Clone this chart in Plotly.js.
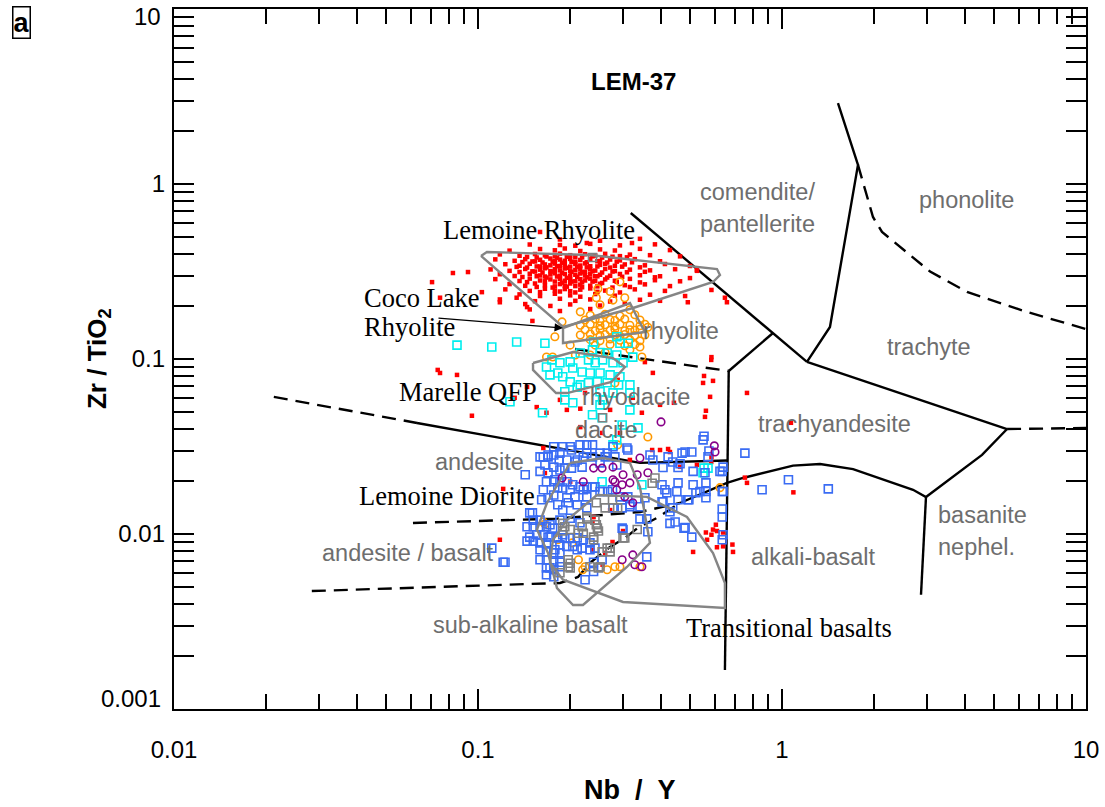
<!DOCTYPE html>
<html>
<head>
<meta charset="utf-8">
<script src="https://cdn.plot.ly/plotly-3.0.1.min.js"></script>
<style>html,body{margin:0;padding:0;background:#fff;}#chart{width:1105px;height:807px;}</style>
</head>
<body>
<div id="chart"></div>
<script>
// ---------------- DATA (Nb/Y , Zr/TiO2) ----------------
const lemoineRhyolite = [
 [0.186,0.482],[0.252,0.474],[0.341,0.486],
 [0.148,0.451],[0.209,0.444],[0.234,0.455],[0.293,0.446],[0.382,0.452],
 [0.127,0.416],[0.160,0.425],[0.179,0.418],[0.193,0.428],[0.217,0.414],[0.252,0.423],[0.282,0.417],[0.341,0.426],[0.428,0.419],
 [0.118,0.396],[0.137,0.389],[0.154,0.398],[0.166,0.391],[0.179,0.386],[0.186,0.400],[0.201,0.392],[0.209,0.384],[0.225,0.397],[0.243,0.390],[0.262,0.399],[0.293,0.387],[0.316,0.395],[0.368,0.392],[0.462,0.386],
 [0.114,0.371],[0.132,0.364],[0.143,0.372],[0.154,0.361],[0.160,0.369],[0.173,0.375],[0.179,0.362],[0.186,0.370],[0.193,0.364],[0.201,0.373],[0.209,0.360],[0.217,0.368],[0.234,0.374],[0.252,0.363],[0.272,0.370],[0.293,0.366],[0.328,0.372],[0.397,0.362],
 [0.123,0.348],[0.137,0.341],[0.148,0.350],[0.160,0.338],[0.166,0.347],[0.173,0.343],[0.179,0.351],[0.186,0.340],[0.193,0.346],[0.201,0.337],[0.209,0.349],[0.217,0.342],[0.225,0.352],[0.234,0.339],[0.252,0.345],[0.262,0.350],[0.282,0.341],[0.304,0.347],[0.354,0.343],[0.412,0.349],[0.498,0.340],
 [0.110,0.325],[0.127,0.319],[0.143,0.327],[0.154,0.316],[0.160,0.324],[0.166,0.330],[0.173,0.318],[0.179,0.326],[0.186,0.321],[0.193,0.329],[0.201,0.317],[0.209,0.323],[0.217,0.328],[0.225,0.315],[0.234,0.325],[0.243,0.320],[0.262,0.327],[0.282,0.318],[0.316,0.324],[0.368,0.321],[0.445,0.326],[0.525,0.319],
 [0.118,0.305],[0.132,0.298],[0.148,0.307],[0.160,0.300],[0.166,0.296],[0.173,0.304],[0.179,0.309],[0.186,0.299],[0.193,0.306],[0.201,0.297],[0.209,0.303],[0.217,0.308],[0.225,0.300],[0.234,0.305],[0.243,0.297],[0.252,0.303],[0.272,0.299],[0.293,0.306],[0.341,0.301],[0.397,0.297],
 [0.114,0.286],[0.137,0.279],[0.148,0.288],[0.160,0.281],[0.173,0.285],[0.179,0.277],[0.186,0.287],[0.193,0.280],[0.201,0.284],[0.209,0.278],[0.217,0.286],[0.225,0.281],[0.234,0.288],[0.243,0.279],[0.262,0.285],[0.282,0.280],[0.316,0.287],[0.382,0.282],[0.462,0.278],
 [0.127,0.268],[0.143,0.262],[0.154,0.270],[0.166,0.264],[0.179,0.260],[0.186,0.268],[0.193,0.263],[0.201,0.270],[0.209,0.261],[0.217,0.266],[0.234,0.262],[0.252,0.269],[0.304,0.264],[0.354,0.267],[0.428,0.261],
 [0.123,0.250],[0.148,0.245],[0.166,0.252],[0.179,0.246],[0.193,0.251],[0.201,0.244],[0.217,0.249],[0.234,0.253],[0.262,0.246],[0.328,0.250],[0.412,0.245],
 [0.137,0.234],[0.160,0.229],[0.179,0.236],[0.201,0.231],[0.217,0.227],[0.243,0.235],[0.282,0.230],[0.368,0.233],[0.480,0.229],
 [0.118,0.219],[0.154,0.214],[0.186,0.221],[0.209,0.215],[0.234,0.219],[0.272,0.213],[0.341,0.218],[0.397,0.215],
 [0.143,0.206],[0.173,0.201],[0.201,0.205],[0.252,0.202],[0.304,0.207],
 [0.148,0.192],[0.186,0.188],[0.234,0.193],
 [0.145,0.383],[0.156,0.380],[0.168,0.385],[0.182,0.379],[0.196,0.384],[0.220,0.381],[0.238,0.386],[0.256,0.380],[0.277,0.384],[0.309,0.381],
 [0.140,0.358],[0.151,0.361],[0.163,0.356],[0.176,0.360],[0.189,0.355],[0.203,0.359],[0.228,0.357],[0.247,0.362],[0.266,0.356],[0.286,0.360],[0.321,0.357],
 [0.134,0.336],[0.145,0.333],[0.156,0.338],[0.168,0.334],[0.182,0.339],[0.196,0.332],[0.212,0.337],[0.228,0.334],[0.247,0.338],[0.272,0.333],[0.298,0.337],[0.341,0.334],
 [0.137,0.314],[0.151,0.317],[0.163,0.312],[0.176,0.316],[0.189,0.311],[0.203,0.315],[0.220,0.313],[0.238,0.317],[0.256,0.312],[0.277,0.316],[0.309,0.313],[0.354,0.315],
 [0.140,0.294],[0.156,0.297],[0.168,0.292],[0.182,0.296],[0.196,0.291],[0.212,0.295],[0.228,0.293],[0.247,0.297],[0.266,0.292],[0.298,0.295],[0.382,0.293],
 [0.145,0.275],[0.166,0.278],[0.189,0.273],[0.203,0.277],[0.220,0.274],[0.238,0.277],[0.256,0.272],[0.286,0.276],[0.341,0.274],
 [0.156,0.258],[0.176,0.256],[0.196,0.259],[0.220,0.257],[0.247,0.260],[0.277,0.256],[0.316,0.258],
 [0.160,0.241],[0.186,0.243],[0.209,0.240],[0.247,0.242],[0.293,0.240],
 // scattered
 [0.0927,0.314],[0.0827,0.310],[0.0706,0.275],[0.075,0.224],[0.103,0.241],[0.118,0.211],[0.134,0.224],[0.145,0.198],[0.151,0.165],
 [0.186,0.448],[0.228,0.46],[0.321,0.46],[0.525,0.323],[0.49,0.211],[0.659,0.211],[0.586,0.248],[0.649,0.224],[0.498,0.290],[0.160,0.532],
 [0.0737,0.0866],[0.0853,0.0811],[0.075,0.0832],[0.0955,0.0474],[0.132,0.060],[0.145,0.0693],[0.156,0.0531],[0.168,0.0493],[0.186,0.0584],
 [0.196,0.0512],[0.217,0.052],[0.225,0.064],[0.247,0.069],[0.272,0.0512],[0.346,0.0493],[0.397,0.0547],[0.441,0.0562],[0.550,0.073],
 [0.585,0.0988],[0.580,0.0608],[0.354,0.096],[0.376,0.0833],[0.288,0.076],[0.323,0.060],[0.217,0.0408],[0.256,0.0378],[0.293,0.0378],
 [0.558,0.0467],[0.164,0.031],[0.316,0.0265],[0.374,0.0302],[0.397,0.0302],[0.422,0.0306],[0.585,0.0258],[0.525,0.0248],[0.462,0.0242],
 [0.428,0.0294],[0.121,0.0181],[0.118,0.00927],[0.767,0.0196],[0.593,0.0106],[0.611,0.0104],[0.64,0.0102],[0.611,0.0084],[0.64,0.0085],
 [0.51,0.0079],[0.69,0.0079],[0.567,0.00927],[0.586,0.0099],[0.272,0.0137],[0.24,0.0125],[0.238,0.0117],[0.277,0.0090],[0.30,0.0104],
 [0.262,0.0078],[0.238,0.0081],[0.257,0.00667],[0.166,0.0223],[0.201,0.0199],[0.586,0.1025],[0.554,0.080],[0.593,0.075],[0.767,0.064],
 [0.562,0.0506],[1.07,0.0432],[0.755,0.021],[1.09,0.0173],[0.586,0.0276],[0.606,0.0113],[0.562,0.0102],[0.687,0.0087]
];

const cocoLake = [
 [0.234,0.178],[0.262,0.180],[0.293,0.176],[0.328,0.179],
 [0.225,0.167],[0.243,0.169],[0.252,0.165],[0.272,0.168],[0.282,0.166],[0.304,0.169],[0.341,0.167],
 [0.217,0.156],[0.234,0.158],[0.252,0.155],[0.262,0.157],[0.282,0.154],[0.293,0.158],[0.316,0.156],[0.341,0.155],[0.354,0.158],
 [0.225,0.147],[0.243,0.145],[0.252,0.148],[0.272,0.146],[0.282,0.148],[0.304,0.145],[0.316,0.147],[0.328,0.146],[0.341,0.148],
 [0.217,0.137],[0.234,0.139],[0.252,0.136],[0.262,0.138],[0.282,0.137],[0.293,0.135],[0.304,0.138],[0.328,0.136],[0.354,0.137],
 [0.234,0.129],[0.252,0.127],[0.272,0.130],[0.293,0.128],[0.316,0.129],[0.341,0.127],
 [0.243,0.120],[0.272,0.121],[0.304,0.119],[0.328,0.121],
 [0.293,0.276],[0.248,0.252],[0.272,0.243],[0.278,0.217],[0.245,0.224],[0.316,0.191],[0.217,0.186],[0.189,0.163],[0.179,0.134],
 [0.176,0.1026],[0.168,0.1026],[0.362,0.152],[0.341,0.117],[0.316,0.113],[0.346,0.1026],[0.362,0.0358],[0.288,0.0323],[0.282,0.073],
 [0.625,0.0184],[0.164,0.0117],[0.166,0.0114],[0.183,0.00927],[0.204,0.0089],[0.214,0.00713],[0.225,0.0065],[0.221,0.00625],
 [0.266,0.00625],[0.282,0.0065],[0.293,0.0065],[0.341,0.0065],[0.252,0.204],[0.304,0.224],[0.201,0.120],[0.209,0.1055],[0.234,0.1055],[0.262,0.109]
];

const marelleQFP = [
 [0.0853,0.120],[0.111,0.117],[0.134,0.125],[0.166,0.123],[0.240,0.125],[0.286,0.134],[0.293,0.123],[0.312,0.123],
 [0.238,0.1127],[0.252,0.109],[0.266,0.1083],[0.286,0.1055],[0.217,0.1083],[0.231,0.0988],[0.243,0.0951],[0.257,0.0988],
 [0.278,0.0951],[0.300,0.0951],[0.323,0.1025],[0.175,0.0988],[0.186,0.0951],[0.201,0.0963],[0.205,0.0889],[0.220,0.0843],
 [0.234,0.0832],[0.252,0.0832],[0.272,0.0811],[0.293,0.0791],[0.1725,0.0811],[0.190,0.0791],[0.201,0.074],[0.217,0.0711],
 [0.231,0.0731],[0.247,0.074],[0.266,0.0731],[0.290,0.0711],[0.316,0.0711],[0.193,0.065],[0.212,0.0690],[0.252,0.065],
 [0.278,0.0640],[0.316,0.0640],[0.193,0.0584],[0.205,0.0562],[0.238,0.048],[0.256,0.0462],[0.316,0.0512],[0.336,0.0404],
 [0.286,0.0345],[0.163,0.0493],[0.168,0.090],[0.183,0.0832],[0.252,0.0547],[0.257,0.0584],[0.278,0.0323],[0.298,0.042],
 [0.550,0.0224],[0.346,0.0191],[0.256,0.0199],[0.554,0.0238],[0.571,0.0238],[0.1274,0.057]
];

const lemoineDiorite = [
 [0.1775,0.0315],[0.160,0.0276],[0.170,0.0276],[0.186,0.0290],[0.201,0.0315],[0.2165,0.0323],[0.228,0.0323],[0.238,0.0323],
 [0.196,0.0265],[0.212,0.0265],[0.228,0.029],[0.252,0.029],[0.266,0.029],[0.278,0.0315],[0.311,0.0302],[0.368,0.0283],
 [0.422,0.0276],[0.469,0.029],[0.505,0.0294],[0.55,0.0345],[0.571,0.0276],[0.755,0.029],[0.462,0.0252],[0.51,0.0228],
 [0.558,0.0224],[0.636,0.0228],[0.406,0.024],[0.455,0.024],[0.403,0.0191],[0.412,0.0179],[0.455,0.0196],[0.51,0.0191],
 [0.451,0.0175],[0.537,0.0175],[0.494,0.0157],[0.455,0.0157],[0.428,0.0134],[0.636,0.0175],[0.562,0.0161],[0.636,0.0125],
 [0.636,0.00927],[0.359,0.0122],[0.403,0.0153],[0.445,0.0117],[0.48,0.0109],[0.505,0.0096],[0.359,0.0074],[0.298,0.0108],
 [0.143,0.0218],[0.160,0.0228],[0.170,0.0224],[0.168,0.0199],[0.1775,0.0199],[0.186,0.0199],[0.196,0.0199],[0.205,0.0191],
 [0.2165,0.0186],[0.228,0.0186],[0.2425,0.0186],[0.183,0.0183],[0.19,0.0183],[0.201,0.0179],[0.1775,0.0167],[0.164,0.0179],
 [0.196,0.0161],[0.2085,0.0163],[0.228,0.0163],[0.252,0.0175],[0.277,0.0179],[0.293,0.0163],[0.311,0.0163],[0.316,0.0147],
 [0.341,0.0143],[0.278,0.0141],[0.19,0.0137],[0.148,0.0132],[0.152,0.0120],[0.160,0.0120],[0.145,0.0110],[0.152,0.0110],
 [0.160,0.0110],[0.168,0.0110],[0.176,0.0108],[0.148,0.0096],[0.156,0.0099],[0.164,0.0099],[0.1725,0.0096],[0.183,0.0095],
 [0.19,0.0099],[0.201,0.0095],[0.212,0.0095],[0.222,0.00927],[0.2335,0.0089],[0.145,0.0091],[0.152,0.0091],[0.160,0.0089],
 [0.168,0.0089],[0.186,0.00868],[0.196,0.0085],[0.205,0.0085],[0.22,0.0083],[0.2335,0.00813],[0.2425,0.0083],[0.160,0.00813],
 [0.168,0.0079],[0.1775,0.0078],[0.186,0.0078],[0.111,0.0083],[0.1227,0.0069],[0.160,0.00713],[0.168,0.00713],[0.1775,0.0069],
 [0.186,0.0069],[0.168,0.0064],[0.1775,0.00625],[0.186,0.0065],[0.1775,0.0057],[0.225,0.00548],[0.240,0.0069],[0.240,0.0061],
 [0.256,0.00713],[0.164,0.0276],[0.1775,0.0283],[0.222,0.0276],[0.238,0.0276],[0.262,0.0276],[0.282,0.0276],[0.166,0.0248],
 [0.1775,0.0241],[0.193,0.0238],[0.203,0.0238],[0.220,0.0241],[0.179,0.0204],[0.222,0.0179],[0.238,0.0186],[0.257,0.0175],
 [0.267,0.0175],[0.162,0.0157],[0.170,0.0161],[0.183,0.0147],[0.198,0.0151],[0.212,0.0147],[0.228,0.0141],[0.298,0.0141],
 [0.316,0.0143],[0.341,0.0122],[0.362,0.0103],[0.30,0.0106],[0.354,0.0161],[0.406,0.0153],[0.437,0.0141],[0.476,0.0108],
 [0.428,0.0115],[0.1725,0.0113],[0.186,0.0120],[0.201,0.0123],[0.2165,0.0116],[0.170,0.0096],[0.193,0.0095],[0.212,0.00813],
 [0.179,0.00813],[0.1725,0.0064],[0.168,0.00585],[0.64,0.0175],[0.625,0.0228],[0.562,0.0196],[0.521,0.0172],[0.49,0.0157],
 [0.418,0.0172],[0.151,0.0132],[0.121,0.0069],[0.554,0.0362],[0.575,0.0298],[0.64,0.0241],[0.86,0.0179],[1.05,0.0204],
 [1.42,0.0181],[0.562,0.0175],[0.636,0.0139],[0.64,0.0099],[0.19,0.0315],[0.203,0.0302],[0.170,0.0283],[0.185,0.0265],
 [0.2085,0.0258],[0.252,0.0255],[0.286,0.0248],[0.309,0.0310],[0.376,0.0265],[0.437,0.0258],[0.48,0.0294],[0.186,0.0232]
];

const purpleSeries = [
 [0.40,0.0437],[0.602,0.0294],[0.341,0.0272],[0.240,0.0238],[0.256,0.0238],[0.278,0.0241],[0.300,0.0218],[0.282,0.0199],
 [0.298,0.0191],[0.334,0.0218],[0.362,0.0224],[0.316,0.0196],[0.286,0.0179],[0.304,0.0163],[0.323,0.0151],[0.323,0.0076],
 [0.298,0.00713],[0.328,0.00667],[0.278,0.0204],[0.189,0.0209],[0.222,0.0199],[0.346,0.0065],[0.599,0.0319]
];

const graySeries = [
 [0.228,0.0122],[0.2425,0.0120],[0.247,0.0108],[0.249,0.0104],[0.22,0.0110],[0.222,0.0101],[0.240,0.00927],[0.256,0.0079],
 [0.266,0.0083],[0.272,0.0083],[0.30,0.0095],[0.334,0.0106],[0.262,0.0141],[0.277,0.0157],[0.288,0.0141],[0.382,0.0209],
 [0.374,0.0195],[0.249,0.0064],[0.2335,0.0065],[0.201,0.0068],[0.19,0.0115],[0.19,0.0104],[0.201,0.0106],[0.198,0.00713],
 [0.201,0.0064],[0.186,0.0060],[0.245,0.0151],[0.228,0.0125],[0.245,0.0113],[0.193,0.0110],[0.214,0.0101],[0.304,0.0095],
 [0.272,0.0079],[0.240,0.0096],[0.252,0.0065],[0.238,0.380],[0.257,0.0462],[0.198,0.0065]
];

// ---------------- field boundaries (Winchester & Floyd) ----------------
const bComendite   = [[0.318,0.683],[0.934,0.1408],[1.208,0.0962]];
const bTrachyteL   = [[1.528,2.90],[1.778,1.285],[1.438,0.1524],[1.208,0.0962]];
const bTrachyteLow = [[1.208,0.0962],[5.50,0.0398]];
const bTrachyteRd  = [[5.50,0.0398],[10,0.0403]];
const bPhonolite   = [[1.778,1.285],[1.992,0.648],[2.133,0.532],[2.444,0.4365],[3.07,0.316],[4.06,0.2415],[6.40,0.1856],[10,0.1484]];
const bRhyoTa      = [[0.934,0.1408],[0.668,0.0854]];
const bVertical    = [[0.668,0.0854],[0.649,0.00167]];
const bRhyodacite  = [[0.2085,0.114],[0.668,0.0854]];
const bDaciteDash  = [[0.0213,0.0607],[0.063,0.0431]];
const bDacite      = [[0.063,0.0431],[0.341,0.0255],[0.659,0.0263]];
const bTrachyand   = [[0.4617,0.01504],[0.659,0.0196],[0.744,0.0209],[1.087,0.0246],[1.334,0.0251],[1.713,0.0235],[2.698,0.0179],[2.976,0.01626],[4.55,0.0283],[5.50,0.0398]];
const bBasanite    = [[2.976,0.01626],[2.866,0.0045]];
const bAndBas      = [[0.0611,0.01156],[0.182,0.01225],[0.341,0.01336],[0.4617,0.01504]];
const bSubAlk      = [[0.0284,0.00472],[0.1861,0.00525],[0.2133,0.00568],[0.2335,0.00683],[0.2717,0.00843],[0.3044,0.00948],[0.335,0.01082],[0.386,0.0123],[0.4617,0.01504]];

// ---------------- group outlines ----------------
const pLemoineRhy = [[0.1023,0.388],[0.107,0.4087],[0.2335,0.393],[0.611,0.3268],[0.625,0.302],[0.593,0.2754],[0.3236,0.1956],[0.1904,0.1524],[0.1023,0.388]];
const pCocoLake   = [[0.1904,0.1503],[0.3162,0.2089],[0.3334,0.1738],[0.3541,0.1426],[0.1904,0.1234],[0.1904,0.1503]];
const pMarelle    = [[0.1517,0.0949],[0.2054,0.1096],[0.278,0.1013],[0.3044,0.0900],[0.2749,0.0739],[0.1963,0.0639],[0.1806,0.0639],[0.1517,0.0866],[0.1517,0.0949]];
const pDiorite    = [[0.2007,0.02545],[0.2576,0.0272],[0.3162,0.02545],[0.341,0.01856],[0.3678,0.00889],[0.309,0.00648],[0.2215,0.00393],[0.2054,0.00393],[0.1819,0.00491],[0.1699,0.00779],[0.1563,0.0106],[0.1686,0.01504],[0.2007,0.02545]];
const pTransit    = [[0.2462,0.0167],[0.3594,0.0163],[0.4869,0.0125],[0.593,0.00779],[0.649,0.00525],[0.649,0.00378],[0.2999,0.00409],[0.1904,0.00548],[0.1725,0.00683],[0.1764,0.00927],[0.1963,0.0120],[0.2462,0.0167]];

// tick labels
const xTickVals = [0.01,0.1,1,10];
const xTickText = ['0.01','0.1','1','10'];
const yTickVals = [0.001,0.01,0.1,1,10];
const yTickText = ['0.001','0.01','0.1','1','10'];

// ---------------- build ----------------
const X = a => a.map(p => p[0]);
const Y = a => a.map(p => p[1]);
const L = Math.log10;
const traces = [];
function addLine(pts, dash, color, width){
  traces.push({x:X(pts), y:Y(pts), mode:'lines', type:'scatter', hoverinfo:'skip', showlegend:false,
    line:{color:color||'#000', width:width||2.4, dash:dash||'solid'}});
}
const DASH = '14px,8px';
[bComendite,bTrachyteL,bTrachyteLow,bRhyoTa,bVertical,bDacite,bTrachyand,bBasanite].forEach(b=>addLine(b));
[bTrachyteRd,bPhonolite,bRhyodacite,bDaciteDash,bAndBas,bSubAlk].forEach(b=>addLine(b,DASH));

function addPts(pts, symbol, size, color, lw){
  traces.push({x:X(pts), y:Y(pts), mode:'markers', type:'scatter', showlegend:false,
    marker:{symbol:symbol, size:size, color:color, line:{color:color, width:lw}}});
}
addPts(lemoineRhyolite,'square',4.5,'#ff0000',0);
addPts(cocoLake,'circle-open',7.5,'#ff9900',1.6);
addPts(marelleQFP,'square-open',8,'#00eeee',1.6);
addPts(lemoineDiorite,'square-open',8,'#3a6cf4',1.6);
addPts(purpleSeries,'circle-open',7.5,'#880088',1.6);
addPts(graySeries,'square-open',8,'#808080',1.6);

[pLemoineRhy,pCocoLake,pMarelle,pDiorite,pTransit].forEach(p=>addLine(p,'solid','#858585',2.4));

const SANS = 'Liberation Sans, Arial, Helvetica, sans-serif';
const SERIF = 'Liberation Serif, Times New Roman, serif';
const GRAY = '#6e6e6e';
function lbl(text,x,y,opts){
  return Object.assign({text:text, x:L(x), y:L(y), xref:'x', yref:'y', showarrow:false,
    font:{family:SANS, size:23.5, color:GRAY}}, opts||{});
}
function blk(text,x,y,opts){
  return lbl(text,x,y,Object.assign({font:{family:SERIF, size:26.5, color:'#000'}},opts||{}));
}
const annotations = [
  lbl('comendite/',0.828,0.90), lbl('pantellerite',0.828,0.59), lbl('phonolite',4.06,0.81),
  lbl('rhyolite',0.466,0.145), lbl('trachyte',3.045,0.117), lbl('rhyodacite',0.331,0.0607),
  lbl('dacite',0.2655,0.0393), lbl('trachyandesite',1.483,0.0425), lbl('andesite',0.1008,0.0258),
  lbl('andesite / basalt',0.0589,0.00778), lbl('alkali-basalt',1.274,0.0074),
  lbl('basanite',4.55,0.01284), lbl('nephel.',4.35,0.00843), lbl('sub-alkaline basalt',0.1493,0.00302),
  blk('Lemoine Rhyolite',0.1588,0.546), blk('Coco Lake',0.04154,0.2232,{xanchor:'left'}),
  blk('Rhyolite',0.04154,0.1524,{xanchor:'left'}), blk('Marelle QFP',0.0927,0.0648),
  blk('Lemoine Diorite',0.0791,0.0165), blk('Transitional basalts',1.055,0.0029),
  {text:'', x:L(0.1904), y:L(0.1503), ax:L(0.0733), ay:L(0.1714), xref:'x', yref:'y', axref:'x', ayref:'y',
   showarrow:true, arrowhead:2, arrowsize:1.3, arrowwidth:1.3, arrowcolor:'#000', standoff:0},
  {text:'<b>LEM-37</b>', x:L(0.3236), y:L(3.83), xref:'x', yref:'y', showarrow:false, font:{family:SANS,size:24,color:'#000'}},
  {text:'<b>Nb&#160; / &#160;Y</b>', x:0.5, y:-0.115, xref:'paper', yref:'paper', xanchor:'center', yanchor:'middle', showarrow:false, font:{family:SANS,size:27,color:'#000'}},
  {text:'<b>Zr / TiO<sub>2</sub></b>', x:-0.0833, y:0.5, xref:'paper', yref:'paper', xanchor:'center', yanchor:'middle', textangle:-90, showarrow:false, font:{family:SANS,size:26,color:'#000'}},
  {text:'<b>a</b>', x:-0.1667, y:0.9814, xref:'paper', yref:'paper', xanchor:'center', yanchor:'middle', showarrow:false,
   font:{family:SANS,size:27,color:'#000'}, bordercolor:'#000', borderwidth:1.5, borderpad:0},
  // end labels of the y axis, drawn inside the frame as in the reference
  {text:yTickText[4], x:-0.012, y:0.9886, xref:'paper', yref:'paper', xanchor:'right', yanchor:'middle', showarrow:false, font:{family:SANS,size:24,color:'#000'}},
  {text:yTickText[0], x:-0.012, y:0.0157, xref:'paper', yref:'paper', xanchor:'right', yanchor:'middle', showarrow:false, font:{family:SANS,size:24,color:'#000'}}
];

const minorX = [], minorY = [];
for (let e=-3; e<1; e++) for (let m=2; m<10; m++){ const v = m*Math.pow(10,e); if (e>=-2) minorX.push(v); minorY.push(v); }

const axisCommon = {type:'log', showgrid:false, zeroline:false, showline:true, linecolor:'#000', linewidth:2.2,
  mirror:'ticks', ticks:'inside', ticklen:20, tickwidth:2, tickcolor:'#000',
  tickfont:{family:SANS, size:24, color:'#000'}};
const layout = {
  width:1105, height:807, paper_bgcolor:'#fff', plot_bgcolor:'#fff',
  margin:{l:174, r:19, t:9, b:98, pad:0},
  showlegend:false,
  xaxis:Object.assign({}, axisCommon, {range:[-2,1], tickmode:'array', tickvals:xTickVals, ticktext:xTickText,
    ticklabelstandoff:18, minor:{tickmode:'array', tickvals:minorX, ticks:'inside', ticklen:15, tickwidth:2, tickcolor:'#000', showgrid:false}}),
  yaxis:Object.assign({}, axisCommon, {range:[-3,1], tickmode:'array', tickvals:yTickVals.slice(1,4), ticktext:yTickText.slice(1,4),
    ticklabelstandoff:2, minor:{tickmode:'array', tickvals:minorY.concat([0.001,10]), ticks:'inside', ticklen:20, tickwidth:2, tickcolor:'#000', showgrid:false}}),
  annotations: annotations
};
Plotly.newPlot('chart', traces, layout, {displayModeBar:false, staticPlot:true});
</script>
</body>
</html>
